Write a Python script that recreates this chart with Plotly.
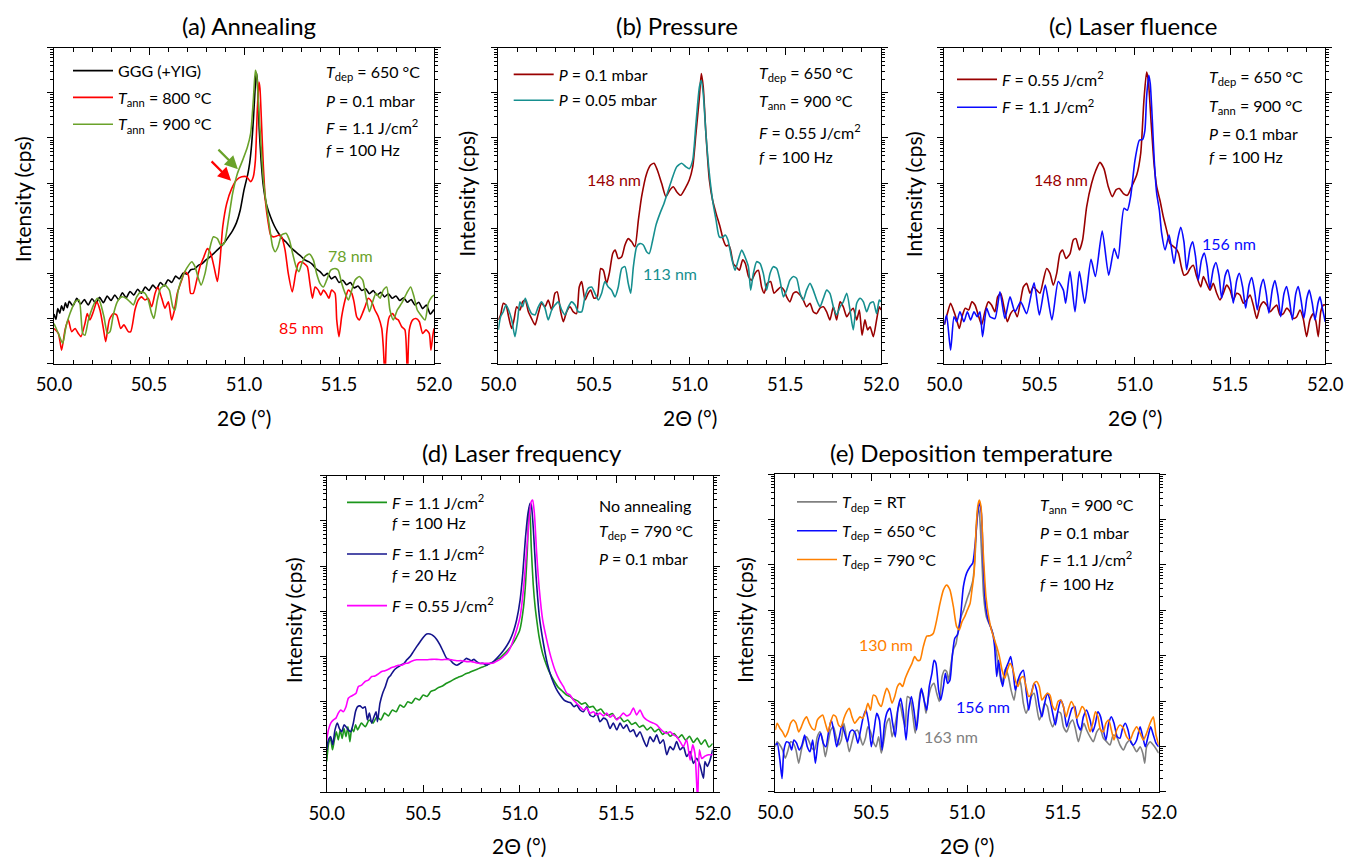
import numpy as np
import plotly.graph_objects as go

# ---------------- data: (2theta in deg, log10 of intensity in cps) ----------------
A_GGG = [(50.00,1.10),(50.01,0.98),(50.02,1.22),(50.03,1.12),(50.04,1.28),(50.05,1.18),(50.06,1.35),(50.07,1.24),(50.08,1.38),(50.10,1.28),(50.12,1.45),(50.14,1.32),(50.16,1.42),(50.18,1.30),(50.20,1.44),(50.22,1.34),(50.24,1.47),(50.26,1.35),(50.28,1.50),(50.30,1.40),(50.32,1.52),(50.34,1.42),(50.36,1.57),(50.38,1.46),(50.40,1.60),(50.42,1.52),(50.44,1.65),(50.46,1.56),(50.48,1.70),(50.50,1.62),(50.52,1.74),(50.54,1.66),(50.56,1.80),(50.58,1.72),(50.60,1.86),(50.62,1.80),(50.64,1.94),(50.66,1.88),(50.68,2.01),(50.70,1.98),(50.72,2.08),(50.74,2.10),(50.76,2.18),(50.78,2.22),(50.80,2.30),(50.82,2.36),(50.84,2.44),(50.86,2.52),(50.88,2.60),(50.90,2.70),(50.92,2.82),(50.94,2.95),(50.96,3.12),(50.98,3.40),(51.00,3.85),(51.02,4.20),(51.03,4.45),(51.04,4.85),(51.05,5.45),(51.06,6.20),(51.065,6.45),(51.07,6.30),(51.075,5.80),(51.08,5.20),(51.09,4.50),(51.10,4.00),(51.11,3.70),(51.12,3.50),(51.14,3.25),(51.16,3.05),(51.18,2.90),(51.20,2.78),(51.22,2.70),(51.24,2.60),(51.26,2.52),(51.28,2.45),(51.30,2.38),(51.32,2.30),(51.34,2.26),(51.36,2.20),(51.38,2.10),(51.40,2.04),(51.42,1.95),(51.44,2.00),(51.46,1.88),(51.48,1.93),(51.50,1.80),(51.52,1.85),(51.54,1.75),(51.56,1.80),(51.58,1.68),(51.60,1.72),(51.62,1.62),(51.64,1.66),(51.66,1.55),(51.68,1.62),(51.70,1.52),(51.72,1.58),(51.74,1.48),(51.76,1.55),(51.78,1.45),(51.80,1.50),(51.82,1.40),(51.84,1.46),(51.86,1.36),(51.88,1.42),(51.90,1.30),(51.92,1.36),(51.94,1.22),(51.96,1.30),(51.98,1.10),(52.00,1.20)]

A_T800 = [(50.000,0.78),(50.023,0.67),(50.040,0.30),(50.058,0.75),(50.075,0.97),(50.093,0.71),(50.111,0.78),(50.128,0.67),(50.142,0.60),(50.163,0.89),(50.175,1.11),(50.189,0.97),(50.207,1.15),(50.225,1.37),(50.242,1.19),(50.260,0.78),(50.272,0.49),(50.291,0.97),(50.312,1.11),(50.330,1.08),(50.351,0.78),(50.368,0.86),(50.391,0.71),(50.404,0.71),(50.426,1.19),(50.444,1.41),(50.461,1.48),(50.479,1.41),(50.496,1.45),(50.514,1.26),(50.532,1.56),(50.546,1.70),(50.567,1.45),(50.584,1.23),(50.602,1.37),(50.619,0.97),(50.632,1.15),(50.649,1.56),(50.672,1.85),(50.689,2.04),(50.707,1.96),(50.719,1.56),(50.733,1.56),(50.751,1.85),(50.768,2.15),(50.789,2.37),(50.807,2.55),(50.825,2.44),(50.842,2.15),(50.860,1.82),(50.874,2.30),(50.888,3.03),(50.909,3.55),(50.935,3.88),(50.961,4.07),(50.988,4.14),(51.014,4.14),(51.035,4.03),(51.049,4.14),(51.060,4.51),(51.070,5.62),(51.079,6.24),(51.084,6.10),(51.093,5.25),(51.102,4.36),(51.114,3.55),(51.128,3.11),(51.140,2.85),(51.154,2.81),(51.172,2.83),(51.186,2.85),(51.198,2.81),(51.216,2.52),(51.233,2.00),(51.254,1.59),(51.272,2.00),(51.286,2.22),(51.300,2.26),(51.316,2.22),(51.333,2.15),(51.347,1.78),(51.360,1.45),(51.374,1.70),(51.391,1.63),(51.404,1.52),(51.418,1.63),(51.432,1.56),(51.447,1.45),(51.461,1.63),(51.479,1.56),(51.488,0.97),(51.500,0.60),(51.514,1.04),(51.532,1.41),(51.549,1.63),(51.567,1.56),(51.579,1.37),(51.593,1.04),(51.607,0.97),(51.623,1.11),(51.637,1.26),(51.654,1.45),(51.672,1.37),(51.689,1.19),(51.707,1.04),(51.725,0.78),(51.733,0.38),(51.742,-0.30),(51.751,0.67),(51.765,1.04),(51.782,1.11),(51.800,1.00),(51.812,0.97),(51.830,0.82),(51.847,0.75),(51.860,-0.30),(51.870,0.75),(51.888,0.97),(51.905,1.00),(51.923,0.93),(51.940,0.67),(51.958,0.75),(51.975,0.67),(51.984,0.30),(51.993,0.60),(52.000,0.78)]

A_T900 = [(50.000,0.89),(50.023,0.67),(50.046,0.45),(50.063,0.82),(50.084,1.11),(50.111,1.37),(50.132,1.41),(50.151,0.67),(50.163,0.63),(50.181,0.97),(50.204,1.26),(50.228,1.45),(50.242,1.37),(50.263,1.04),(50.281,0.67),(50.295,0.71),(50.312,1.08),(50.333,1.37),(50.356,1.48),(50.379,1.45),(50.400,1.37),(50.418,1.30),(50.435,1.48),(50.456,1.59),(50.479,1.56),(50.496,1.41),(50.514,1.11),(50.526,1.00),(50.544,1.41),(50.561,1.67),(50.584,1.74),(50.607,1.63),(50.625,1.26),(50.637,1.19),(50.654,1.63),(50.677,1.93),(50.698,2.11),(50.725,2.26),(50.742,2.15),(50.760,1.89),(50.774,1.74),(50.795,2.00),(50.818,2.52),(50.839,2.81),(50.860,2.77),(50.877,2.63),(50.895,2.66),(50.918,3.18),(50.940,3.77),(50.965,4.21),(50.993,4.51),(51.018,4.80),(51.035,5.10),(51.049,5.84),(51.060,6.50),(51.067,6.39),(51.075,5.84),(51.088,4.95),(51.102,4.07),(51.119,3.48),(51.137,2.96),(51.151,2.59),(51.165,2.48),(51.179,2.59),(51.198,2.85),(51.221,2.89),(51.239,2.74),(51.256,2.44),(51.274,2.15),(51.289,2.04),(51.304,2.22),(51.321,2.37),(51.344,2.43),(51.365,2.30),(51.382,2.00),(51.400,1.78),(51.418,1.70),(51.435,1.85),(51.456,2.07),(51.479,2.11),(51.496,2.07),(51.514,1.78),(51.532,1.56),(51.549,1.41),(51.567,1.63),(51.584,1.85),(51.607,1.93),(51.625,1.85),(51.642,1.48),(51.660,1.15),(51.677,1.37),(51.695,1.56),(51.716,1.45),(51.733,1.63),(51.751,1.70),(51.768,1.19),(51.786,0.97),(51.807,1.19),(51.830,1.34),(51.856,1.56),(51.877,1.70),(51.895,1.48),(51.912,1.19),(51.930,1.08),(51.953,0.97),(51.970,1.34),(51.988,1.48),(52.000,1.52)]

B_P010 = [(50.000,0.97),(50.012,1.08),(50.026,1.34),(50.040,1.30),(50.054,1.04),(50.070,0.78),(50.082,0.97),(50.096,1.26),(50.113,1.19),(50.127,1.37),(50.141,1.41),(50.157,1.15),(50.174,1.00),(50.192,0.86),(50.209,1.11),(50.226,1.34),(50.244,1.26),(50.261,1.41),(50.279,1.19),(50.296,1.56),(50.308,1.59),(50.326,1.15),(50.340,0.93),(50.357,1.15),(50.375,1.26),(50.392,1.15),(50.409,1.11),(50.423,1.70),(50.436,1.82),(50.453,1.41),(50.470,1.56),(50.483,1.63),(50.500,1.45),(50.517,1.48),(50.535,2.11),(50.549,2.07),(50.566,1.78),(50.580,2.00),(50.598,2.44),(50.611,2.52),(50.627,2.33),(50.645,2.37),(50.662,2.63),(50.679,2.77),(50.697,2.70),(50.714,2.59),(50.732,3.18),(50.749,3.70),(50.775,4.21),(50.796,4.40),(50.814,4.44),(50.831,4.29),(50.854,3.99),(50.876,3.70),(50.897,3.85),(50.915,3.92),(50.932,3.81),(50.953,3.73),(50.976,3.88),(50.998,4.07),(51.016,4.36),(51.033,5.10),(51.051,5.91),(51.061,6.43),(51.071,6.13),(51.085,5.10),(51.103,4.07),(51.120,3.62),(51.138,3.33),(51.159,3.03),(51.176,2.74),(51.190,2.61),(51.204,2.63),(51.214,2.52),(51.228,2.22),(51.242,2.15),(51.260,2.07),(51.277,2.30),(51.291,2.22),(51.308,1.93),(51.324,1.85),(51.341,2.00),(51.359,2.07),(51.376,1.70),(51.389,1.56),(51.406,1.78),(51.423,1.82),(51.441,1.56),(51.458,1.63),(51.476,1.70),(51.493,1.63),(51.507,1.48),(51.524,1.37),(51.542,1.56),(51.559,1.59),(51.577,1.52),(51.594,1.41),(51.611,1.26),(51.629,1.34),(51.646,1.15),(51.664,1.11),(51.681,1.23),(51.699,1.26),(51.716,1.15),(51.733,0.97),(51.751,1.26),(51.768,0.97),(51.786,1.37),(51.803,1.26),(51.821,1.04),(51.838,1.15),(51.855,1.23),(51.873,0.97),(51.887,1.19),(51.901,0.63),(51.916,0.97),(51.930,0.75),(51.943,0.82),(51.960,0.60),(51.977,0.97),(51.991,1.26),(52.000,1.19)]

B_P005 = [(50.000,0.75),(50.012,1.04),(50.026,1.15),(50.040,1.30),(50.054,1.19),(50.070,0.97),(50.087,0.60),(50.101,0.97),(50.113,1.37),(50.127,1.26),(50.141,1.45),(50.157,1.26),(50.174,1.11),(50.192,1.08),(50.209,1.26),(50.226,1.37),(50.244,1.23),(50.261,0.97),(50.279,1.19),(50.296,1.30),(50.314,1.37),(50.331,1.19),(50.348,1.08),(50.366,1.26),(50.383,1.37),(50.401,1.30),(50.418,1.15),(50.436,1.15),(50.453,1.48),(50.470,1.67),(50.488,1.70),(50.505,1.56),(50.523,1.41),(50.540,1.56),(50.557,1.82),(50.575,1.70),(50.592,1.63),(50.610,1.48),(50.627,1.70),(50.645,2.11),(50.662,2.15),(50.679,1.78),(50.692,1.56),(50.706,2.15),(50.723,2.59),(50.740,2.66),(50.758,2.63),(50.775,2.48),(50.789,2.44),(50.807,2.74),(50.824,3.07),(50.845,3.33),(50.866,3.55),(50.883,3.77),(50.906,4.07),(50.932,4.36),(50.958,4.44),(50.981,4.36),(50.998,4.32),(51.016,4.51),(51.033,5.32),(51.051,6.13),(51.061,6.28),(51.071,5.99),(51.085,5.10),(51.103,4.21),(51.120,3.62),(51.138,3.18),(51.155,2.81),(51.172,2.80),(51.186,2.85),(51.200,2.74),(51.218,2.37),(51.237,2.07),(51.254,2.30),(51.272,2.52),(51.289,2.37),(51.307,2.15),(51.319,1.63),(51.333,2.00),(51.350,2.26),(51.368,2.22),(51.385,2.00),(51.402,1.63),(51.420,2.00),(51.437,2.15),(51.455,2.11),(51.472,1.85),(51.490,1.48),(51.507,1.63),(51.524,1.85),(51.542,1.93),(51.559,1.89),(51.577,1.56),(51.594,1.41),(51.611,1.63),(51.629,1.78),(51.646,1.63),(51.664,1.41),(51.681,1.26),(51.699,1.45),(51.716,1.63),(51.733,1.56),(51.751,1.26),(51.768,1.08),(51.786,1.26),(51.803,1.37),(51.821,1.56),(51.838,1.19),(51.855,0.75),(51.873,1.34),(51.890,1.45),(51.908,1.37),(51.925,1.15),(51.943,1.34),(51.960,1.37),(51.977,1.11),(51.991,1.41),(52.000,1.37)]

C_F055 = [(50.000,0.86),(50.016,1.11),(50.033,1.34),(50.051,1.15),(50.065,0.97),(50.079,0.78),(50.093,1.04),(50.110,1.23),(50.128,1.19),(50.145,1.37),(50.161,1.30),(50.178,1.08),(50.196,0.86),(50.213,1.15),(50.231,1.37),(50.248,1.30),(50.266,1.15),(50.280,1.48),(50.296,1.56),(50.313,1.26),(50.331,0.93),(50.348,1.11),(50.366,1.19),(50.383,1.04),(50.401,1.41),(50.415,1.70),(50.432,1.78),(50.450,1.56),(50.467,1.70),(50.485,1.63),(50.502,1.56),(50.520,1.85),(50.537,2.11),(50.555,2.00),(50.572,1.74),(50.590,2.00),(50.607,2.44),(50.621,2.52),(50.639,2.33),(50.660,2.44),(50.677,2.74),(50.691,2.77),(50.709,2.52),(50.726,2.74),(50.747,3.47),(50.773,3.99),(50.796,4.29),(50.817,4.46),(50.838,4.32),(50.861,3.92),(50.882,3.70),(50.901,3.85),(50.919,3.88),(50.940,3.77),(50.961,3.73),(50.983,3.92),(51.010,4.18),(51.031,4.66),(51.048,5.84),(51.062,6.46),(51.071,6.27),(51.085,5.39),(51.101,4.43),(51.115,3.92),(51.132,3.62),(51.150,3.25),(51.167,2.96),(51.185,2.66),(51.199,2.61),(51.216,2.55),(51.230,2.44),(51.244,2.15),(51.258,1.96),(51.276,2.00),(51.290,2.11),(51.307,2.18),(51.325,1.93),(51.346,1.70),(51.360,1.93),(51.377,1.78),(51.395,1.63),(51.412,1.78),(51.430,1.56),(51.447,1.41),(51.465,1.56),(51.482,1.74),(51.500,1.63),(51.517,1.41),(51.535,1.56),(51.552,1.52),(51.570,1.34),(51.587,1.41),(51.605,1.52),(51.622,1.30),(51.640,1.00),(51.657,1.26),(51.675,1.37),(51.692,1.30),(51.710,1.15),(51.727,1.23),(51.745,1.30),(51.762,1.08),(51.780,1.11),(51.797,1.23),(51.815,1.15),(51.832,1.00),(51.850,1.04),(51.867,1.19),(51.884,1.00),(51.902,0.60),(51.919,0.97),(51.937,1.11),(51.951,0.93),(51.963,0.60),(51.976,1.15),(51.990,1.30),(52.000,1.30)]

C_F110 = [(50.000,0.86),(50.012,1.08),(50.033,0.30),(50.051,1.04),(50.065,0.93),(50.082,1.15),(50.103,0.93),(50.121,1.15),(50.138,0.97),(50.156,1.15),(50.173,1.04),(50.187,1.15),(50.201,0.60),(50.222,1.23),(50.240,1.04),(50.266,1.00),(50.292,1.59),(50.318,1.00),(50.345,1.48),(50.371,1.15),(50.401,1.37),(50.432,1.11),(50.471,1.79),(50.499,1.08),(50.530,1.74),(50.565,0.97),(50.598,1.82),(50.625,1.63),(50.637,1.34),(50.660,2.04),(50.686,1.15),(50.709,2.04),(50.737,1.34),(50.770,2.31),(50.793,1.93),(50.829,2.94),(50.863,1.96),(50.892,2.55),(50.912,2.33),(50.943,3.44),(50.961,3.40),(50.978,3.70),(51.001,4.51),(51.024,4.95),(51.041,4.97),(51.053,5.17),(51.062,5.91),(51.073,6.39),(51.081,6.21),(51.092,5.39),(51.102,4.51),(51.115,3.77),(51.129,3.40),(51.141,2.89),(51.159,2.52),(51.180,2.85),(51.206,2.22),(51.225,2.75),(51.241,3.02),(51.258,2.70),(51.272,2.08),(51.290,2.55),(51.304,2.70),(51.318,2.40),(51.333,1.85),(51.350,2.30),(51.365,2.45),(51.380,2.15),(51.394,1.67),(51.412,2.10),(51.426,2.24),(51.442,1.95),(51.456,1.45),(51.474,1.95),(51.488,2.08),(51.503,1.80),(51.517,1.34),(51.535,1.85),(51.549,2.00),(51.566,1.70),(51.582,1.23),(51.600,1.75),(51.614,1.91),(51.629,1.60),(51.643,1.19),(51.661,1.70),(51.675,1.87),(51.690,1.55),(51.704,1.12),(51.722,1.65),(51.736,1.84),(51.752,1.50),(51.766,1.04),(51.783,1.55),(51.797,1.71),(51.812,1.40),(51.827,0.97),(51.845,1.55),(51.858,1.71),(51.873,1.40),(51.888,1.01),(51.903,1.45),(51.916,1.63),(51.931,1.35),(51.946,0.97),(51.962,1.35),(51.972,1.48),(51.986,1.20),(52.000,0.93)]

D_F110_100 = [(50.00,0.68),(50.01,1.08),(50.02,1.19),(50.03,0.94),(50.04,1.16),(50.05,1.34),(50.06,1.16),(50.07,1.38),(50.08,1.19),(50.09,1.41),(50.10,1.23),(50.11,1.45),(50.12,1.12),(50.13,1.41),(50.14,1.34),(50.15,1.49),(50.16,1.38),(50.18,1.53),(50.20,1.45),(50.22,1.60),(50.24,1.53),(50.26,1.67),(50.28,1.60),(50.30,1.75),(50.32,1.69),(50.34,1.82),(50.36,1.78),(50.38,1.93),(50.40,1.88),(50.42,2.00),(50.44,1.97),(50.46,2.08),(50.48,2.04),(50.50,2.15),(50.52,2.12),(50.54,2.23),(50.56,2.26),(50.58,2.32),(50.60,2.35),(50.62,2.41),(50.64,2.45),(50.66,2.50),(50.68,2.54),(50.70,2.57),(50.72,2.62),(50.74,2.65),(50.76,2.69),(50.78,2.72),(50.80,2.76),(50.82,2.79),(50.84,2.84),(50.86,2.87),(50.88,2.93),(50.90,2.98),(50.92,3.06),(50.94,3.15),(50.96,3.26),(50.98,3.40),(51.00,3.58),(51.02,4.10),(51.03,4.60),(51.04,5.40),(51.045,6.00),(51.05,6.30),(51.055,6.05),(51.06,5.40),(51.07,4.60),(51.08,4.10),(51.09,3.75),(51.10,3.45),(51.12,3.05),(51.14,2.80),(51.16,2.60),(51.18,2.45),(51.20,2.32),(51.22,2.24),(51.24,2.16),(51.26,2.12),(51.28,2.06),(51.30,2.02),(51.32,1.95),(51.34,1.98),(51.36,1.88),(51.38,1.90),(51.40,1.80),(51.42,1.84),(51.44,1.74),(51.46,1.70),(51.48,1.74),(51.50,1.62),(51.52,1.66),(51.54,1.56),(51.56,1.60),(51.58,1.50),(51.60,1.54),(51.62,1.44),(51.64,1.48),(51.66,1.38),(51.68,1.44),(51.70,1.34),(51.72,1.40),(51.74,1.28),(51.76,1.34),(51.78,1.24),(51.80,1.30),(51.82,1.20),(51.84,1.27),(51.86,1.15),(51.88,1.24),(51.90,1.10),(51.92,1.20),(51.94,1.06),(51.96,1.16),(51.98,1.00),(52.00,1.08)]

D_F110_20 = [(50.000,0.94),(50.009,1.16),(50.021,1.23),(50.031,1.05),(50.043,1.38),(50.055,1.53),(50.066,1.41),(50.078,1.34),(50.090,1.49),(50.100,1.45),(50.112,1.38),(50.124,1.34),(50.138,1.53),(50.149,1.78),(50.159,1.89),(50.173,1.91),(50.187,1.86),(50.199,1.89),(50.211,1.60),(50.221,1.75),(50.233,1.53),(50.245,1.67),(50.256,1.78),(50.263,1.56),(50.276,1.97),(50.290,2.19),(50.304,2.34),(50.318,2.52),(50.332,2.59),(50.349,2.70),(50.366,2.76),(50.383,2.81),(50.401,2.85),(50.415,2.93),(50.432,3.00),(50.449,3.11),(50.466,3.22),(50.484,3.33),(50.501,3.43),(50.518,3.50),(50.535,3.50),(50.553,3.46),(50.570,3.38),(50.587,3.26),(50.604,3.11),(50.622,2.96),(50.639,2.93),(50.656,2.85),(50.674,2.81),(50.691,2.85),(50.705,2.89),(50.722,2.96),(50.736,2.94),(50.750,2.91),(50.763,2.94),(50.777,2.89),(50.794,2.85),(50.812,2.85),(50.829,2.81),(50.846,2.85),(50.864,2.89),(50.881,2.96),(50.898,3.04),(50.915,3.13),(50.933,3.24),(50.950,3.37),(50.967,3.55),(50.984,3.81),(51.002,4.25),(51.016,4.84),(51.029,5.58),(51.043,6.17),(51.054,6.39),(51.060,6.35),(51.071,5.80),(51.085,4.77),(51.102,3.88),(51.123,3.29),(51.143,2.85),(51.166,2.52),(51.188,2.30),(51.209,2.15),(51.230,2.04),(51.247,2.00),(51.264,1.98),(51.282,1.89),(51.295,1.93),(51.313,1.82),(51.330,1.78),(51.347,1.89),(51.364,1.71),(51.382,1.67),(51.399,1.75),(51.416,1.56),(51.434,1.64),(51.451,1.60),(51.468,1.41),(51.485,1.53),(51.503,1.38),(51.520,1.53),(51.537,1.41),(51.554,1.49),(51.572,1.34),(51.589,1.38),(51.606,1.23),(51.623,1.34),(51.641,1.16),(51.658,1.01),(51.675,1.23),(51.693,1.12),(51.710,1.27),(51.727,1.08),(51.744,1.16),(51.762,0.83),(51.779,1.01),(51.796,0.94),(51.813,1.12),(51.831,0.94),(51.848,1.01),(51.865,0.79),(51.883,0.90),(51.900,0.64),(51.917,0.75),(51.934,0.60),(51.952,0.31),(51.960,0.68),(51.972,0.57),(51.986,0.71),(52.000,0.94)]

D_F055 = [(50.000,1.16),(50.009,1.38),(50.021,1.53),(50.035,1.60),(50.048,1.64),(50.060,1.75),(50.073,1.82),(50.086,1.78),(50.100,1.89),(50.112,2.08),(50.124,2.12),(50.138,2.15),(50.152,2.19),(50.164,2.34),(50.181,2.37),(50.199,2.45),(50.216,2.48),(50.233,2.56),(50.250,2.57),(50.268,2.62),(50.285,2.67),(50.302,2.69),(50.320,2.72),(50.337,2.76),(50.354,2.78),(50.371,2.81),(50.389,2.81),(50.406,2.85),(50.423,2.86),(50.440,2.90),(50.466,2.93),(50.492,2.93),(50.518,2.93),(50.544,2.94),(50.570,2.94),(50.596,2.93),(50.622,2.94),(50.648,2.93),(50.674,2.91),(50.699,2.91),(50.725,2.89),(50.751,2.89),(50.777,2.86),(50.803,2.85),(50.829,2.85),(50.846,2.85),(50.864,2.86),(50.881,2.90),(50.898,2.94),(50.915,3.00),(50.933,3.07),(50.950,3.18),(50.967,3.37),(50.984,3.59),(51.002,3.88),(51.019,4.47),(51.036,5.36),(51.050,6.09),(51.060,6.43),(51.067,6.46),(51.076,6.17),(51.088,5.28),(51.102,4.47),(51.119,3.81),(51.140,3.37),(51.161,3.00),(51.183,2.70),(51.206,2.48),(51.226,2.34),(51.244,2.19),(51.261,2.15),(51.278,2.04),(51.295,1.97),(51.313,1.89),(51.330,1.82),(51.347,1.86),(51.364,1.75),(51.382,1.78),(51.399,1.71),(51.416,1.75),(51.434,1.69),(51.451,1.75),(51.468,1.66),(51.485,1.71),(51.503,1.60),(51.520,1.67),(51.537,1.75),(51.554,1.69),(51.572,1.73),(51.589,1.86),(51.606,1.71),(51.623,1.82),(51.641,1.67),(51.658,1.60),(51.675,1.56),(51.693,1.53),(51.710,1.49),(51.727,1.41),(51.744,1.34),(51.762,1.30),(51.779,1.34),(51.796,1.27),(51.813,1.23),(51.831,1.12),(51.848,1.01),(51.865,1.16),(51.883,0.71),(51.896,1.05),(51.908,0.86),(51.922,-0.20),(51.931,0.94),(51.943,0.75),(51.960,0.80),(51.978,0.83),(52.000,0.83)]

E_RT = [(50.000,0.99),(50.010,1.10),(50.024,1.03),(50.038,0.92),(50.052,0.74),(50.064,0.88),(50.080,1.10),(50.094,1.07),(50.108,0.92),(50.122,0.63),(50.136,0.92),(50.150,1.14),(50.163,1.21),(50.177,1.10),(50.191,0.96),(50.205,0.92),(50.219,1.21),(50.233,1.32),(50.247,1.14),(50.261,0.77),(50.275,1.07),(50.289,1.36),(50.303,1.43),(50.317,1.21),(50.330,1.03),(50.344,1.14),(50.358,1.51),(50.372,1.18),(50.386,0.88),(50.400,1.10),(50.414,1.32),(50.428,1.36),(50.442,1.21),(50.456,1.03),(50.470,1.18),(50.483,1.43),(50.497,1.32),(50.511,1.10),(50.525,0.99),(50.539,1.21),(50.553,0.85),(50.567,1.14),(50.581,1.51),(50.595,1.62),(50.609,1.21),(50.623,1.43),(50.637,1.76),(50.650,1.95),(50.664,1.65),(50.678,1.43),(50.689,2.10),(50.703,2.06),(50.717,1.69),(50.730,1.29),(50.744,1.73),(50.758,2.24),(50.772,2.13),(50.786,1.73),(50.800,2.10),(50.814,2.32),(50.828,2.39),(50.842,2.17),(50.856,1.99),(50.870,2.54),(50.883,2.68),(50.894,2.65),(50.904,2.46),(50.917,2.83),(50.929,3.13),(50.943,3.27),(50.957,3.64),(50.969,3.86),(50.983,4.01),(50.999,4.23),(51.017,4.45),(51.031,4.67),(51.042,5.18),(51.052,6.07),(51.059,6.29),(51.066,6.07),(51.077,5.18),(51.087,4.30),(51.101,3.86),(51.115,3.71),(51.129,3.57),(51.143,3.35),(51.157,2.98),(51.170,2.61),(51.181,2.39),(51.191,2.54),(51.202,2.72),(51.216,2.54),(51.230,2.24),(51.245,2.02),(51.256,2.28),(51.270,2.50),(51.280,2.39),(51.294,1.95),(51.308,1.73),(51.322,1.88),(51.336,2.10),(51.350,2.17),(51.363,1.88),(51.377,1.58),(51.391,1.73),(51.405,1.95),(51.419,1.88),(51.433,1.58),(51.447,1.43),(51.461,1.58),(51.475,1.76),(51.489,1.73),(51.503,1.43),(51.520,1.32),(51.537,1.51),(51.551,1.58),(51.565,1.40),(51.581,1.10),(51.595,1.32),(51.610,1.51),(51.624,1.36),(51.642,1.21),(51.659,1.10),(51.677,1.32),(51.694,1.40),(51.711,1.18),(51.729,1.10),(51.746,1.03),(51.763,1.25),(51.781,1.21),(51.798,1.03),(51.816,0.92),(51.833,1.07),(51.850,1.14),(51.868,1.00),(51.885,0.88),(51.903,0.99),(51.917,0.85),(51.927,0.63),(51.937,0.99),(51.955,1.10),(51.972,1.03),(51.990,0.92),(52.000,0.85)]

E_650 = [(50.000,1.03),(50.010,1.07),(50.024,0.70),(50.035,0.29),(50.045,0.92),(50.059,1.10),(50.073,1.07),(50.085,0.92),(50.097,1.14),(50.111,1.07),(50.125,0.92),(50.139,1.03),(50.153,1.25),(50.167,0.99),(50.181,0.88),(50.195,1.14),(50.209,0.63),(50.223,1.10),(50.237,1.29),(50.250,1.07),(50.264,0.99),(50.278,1.32),(50.292,1.58),(50.306,1.32),(50.320,0.99),(50.334,1.21),(50.348,1.47),(50.362,1.29),(50.376,1.10),(50.390,1.32),(50.403,1.36),(50.417,1.29),(50.431,1.07),(50.445,1.36),(50.459,1.65),(50.473,1.80),(50.487,1.51),(50.501,0.99),(50.515,1.36),(50.529,1.73),(50.543,1.58),(50.557,0.92),(50.570,1.51),(50.584,1.76),(50.598,1.84),(50.612,1.51),(50.626,1.21),(50.640,1.84),(50.654,2.06),(50.668,1.73),(50.682,1.14),(50.696,1.80),(50.710,2.10),(50.723,1.80),(50.737,1.36),(50.751,1.95),(50.762,2.28),(50.776,2.02),(50.790,1.80),(50.803,2.32),(50.817,2.61),(50.828,2.90),(50.838,2.83),(50.852,2.24),(50.863,2.02),(50.877,2.32),(50.887,2.61),(50.899,2.39),(50.911,2.46),(50.923,2.98),(50.936,3.38),(50.950,3.46),(50.963,3.71),(50.981,4.52),(50.998,4.82),(51.016,4.96),(51.030,5.04),(51.043,5.48),(51.054,6.07),(51.064,6.40),(51.075,6.14),(51.085,5.04),(51.096,4.15),(51.110,3.79),(51.123,3.64),(51.134,3.49),(51.144,3.20),(51.155,2.54),(51.165,2.90),(51.176,2.54),(51.186,2.32),(51.200,2.68),(51.214,2.83),(51.228,2.98),(51.242,2.61),(51.252,2.24),(51.266,2.46),(51.280,2.61),(51.294,2.68),(51.308,2.24),(51.322,1.80),(51.336,2.17),(51.350,2.39),(51.363,2.24),(51.377,1.88),(51.391,1.65),(51.405,1.95),(51.419,2.17),(51.433,2.02),(51.447,1.73),(51.461,1.47),(51.475,1.80),(51.489,2.02),(51.503,1.88),(51.520,1.43),(51.534,1.65),(51.548,1.84),(51.562,1.88),(51.576,1.51),(51.593,1.36),(51.607,1.65),(51.624,1.80),(51.642,1.58),(51.656,1.32),(51.670,1.51),(51.683,1.76),(51.697,1.65),(51.711,1.36),(51.725,1.14),(51.739,1.51),(51.753,1.65),(51.767,1.51),(51.784,1.21),(51.798,1.18),(51.812,1.40),(51.826,1.51),(51.840,1.36),(51.854,1.10),(51.868,1.03),(51.885,1.14),(51.903,1.43),(51.917,1.21),(51.930,0.99),(51.944,1.21),(51.958,1.43),(51.972,1.25),(51.986,1.07),(52.000,0.99)]

E_790 = [(50.000,1.36),(50.010,1.51),(50.024,1.40),(50.038,1.32),(50.052,1.21),(50.066,1.32),(50.080,1.51),(50.094,1.58),(50.108,1.51),(50.122,1.32),(50.136,1.43),(50.150,1.58),(50.163,1.65),(50.177,1.51),(50.191,1.40),(50.205,1.36),(50.219,1.58),(50.233,1.65),(50.247,1.69),(50.261,1.51),(50.275,1.32),(50.289,1.54),(50.303,1.69),(50.317,1.65),(50.330,1.47),(50.344,1.43),(50.358,1.62),(50.372,1.76),(50.386,1.84),(50.400,1.65),(50.414,1.51),(50.428,1.58),(50.442,1.65),(50.456,1.62),(50.470,1.76),(50.483,1.95),(50.497,1.80),(50.511,2.13),(50.525,2.10),(50.539,1.95),(50.553,1.88),(50.567,2.10),(50.581,2.28),(50.595,2.17),(50.609,1.95),(50.623,2.10),(50.637,2.32),(50.650,2.39),(50.664,2.32),(50.678,2.50),(50.696,2.68),(50.713,2.83),(50.727,2.98),(50.741,2.90),(50.755,2.90),(50.772,3.20),(50.790,3.43),(50.807,3.44),(50.824,3.49),(50.842,3.79),(50.859,4.15),(50.877,4.45),(50.894,4.56),(50.911,4.45),(50.929,4.08),(50.946,3.64),(50.960,3.57),(50.974,3.75),(50.988,3.86),(51.002,4.01),(51.016,4.15),(51.026,4.45),(51.037,4.82),(51.047,5.77),(51.056,6.29),(51.064,6.43),(51.073,6.29),(51.085,5.26),(51.099,4.30),(51.113,3.86),(51.127,3.57),(51.141,3.38),(51.155,3.20),(51.169,2.98),(51.183,2.68),(51.197,2.50),(51.210,2.68),(51.224,2.83),(51.238,2.72),(51.252,2.46),(51.266,2.32),(51.280,2.50),(51.294,2.54),(51.308,2.32),(51.322,2.10),(51.336,2.17),(51.350,2.39),(51.363,2.43),(51.377,2.32),(51.391,2.02),(51.405,2.10),(51.419,2.17),(51.433,2.13),(51.447,1.88),(51.461,1.80),(51.475,1.99),(51.489,2.02),(51.503,1.88),(51.517,1.65),(51.530,1.84),(51.544,1.99),(51.558,1.88),(51.572,1.62),(51.586,1.73),(51.600,1.88),(51.614,1.80),(51.628,1.54),(51.642,1.32),(51.656,1.51),(51.670,1.76),(51.683,1.65),(51.697,1.36),(51.711,1.32),(51.725,1.51),(51.739,1.58),(51.753,1.36),(51.767,1.14),(51.781,1.36),(51.798,1.47),(51.816,1.40),(51.833,1.21),(51.850,1.14),(51.868,1.32),(51.885,1.43),(51.903,1.29),(51.920,1.14),(51.937,1.29),(51.955,1.51),(51.972,1.65),(51.986,1.25),(52.000,1.03)]

X_RANGE = [50.0, 52.0]
LOG_RANGE = [0, 7]          # decades shown on the (label-less) intensity axis

FONT = "Lato"
W, H = 1346, 858

def px(x):
    return x / W

def py(y):
    return 1 - y / H

# panel geometry (pixels): axis suffix, left, right, top, bottom
PANELS = [("", 54, 434, 47.7, 363.7),
          ("2", 498.3, 881, 47.7, 363.7),
          ("3", 944.3, 1325.3, 47.7, 363.7),
          ("4", 326.7, 712.7, 475.7, 792.3),
          ("5", 775.3, 1158.7, 474.3, 791.7)]

SERIES = [
    # panel, data, legend label, colour
    ("", A_GGG, "GGG (+YIG)", "#000000"),
    ("", A_T800, "<i>T</i><sub>ann</sub> = 800 °C", "#ff0000"),
    ("", A_T900, "<i>T</i><sub>ann</sub> = 900 °C", "#6aa22a"),
    ("2", B_P010, "<i>P</i> = 0.1 mbar", "#990000"),
    ("2", B_P005, "<i>P</i> = 0.05 mbar", "#168f8f"),
    ("3", C_F055, "<i>F</i> = 0.55 J/cm<sup>2</sup>", "#990000"),
    ("3", C_F110, "<i>F</i> = 1.1 J/cm<sup>2</sup>", "#0a0aff"),
    ("4", D_F110_100, "<i>F</i> = 1.1 J/cm<sup>2</sup><br><i>f</i> = 100 Hz", "#1c961c"),
    ("4", D_F110_20, "<i>F</i> = 1.1 J/cm<sup>2</sup><br><i>f</i> = 20 Hz", "#14148c"),
    ("4", D_F055, "<i>F</i> = 0.55 J/cm<sup>2</sup>", "#ff00ff"),
    ("5", E_RT, "<i>T</i><sub>dep</sub> = RT", "#808080"),
    ("5", E_650, "<i>T</i><sub>dep</sub> = 650 °C", "#0a0aff"),
    ("5", E_790, "<i>T</i><sub>dep</sub> = 790 °C", "#ff8000"),
]

LEGEND_OF = {"": "legend", "2": "legend2", "3": "legend3", "4": "legend4", "5": "legend5"}

fig = go.Figure()
for i, (panel, data, label, color) in enumerate(SERIES):
    arr = np.array(data, dtype=float)
    fig.add_trace(go.Scatter(
        x=arr[:, 0], y=10 ** arr[:, 1], mode="lines", name=label,
        line=dict(color=color, width=1.6, shape="spline", smoothing=0.6),
        xaxis="x" + panel, yaxis="y" + panel, legend=LEGEND_OF[panel],
        legendgroup="g%d" % i, showlegend=True))

layout = dict(template="none", width=W, height=H,
              margin=dict(l=0, r=0, t=0, b=0, pad=0, autoexpand=False),
              paper_bgcolor="white", plot_bgcolor="white",
              font=dict(family=FONT, color="black"))

for k, l, r, t, b in PANELS:
    layout["xaxis" + k] = dict(
        domain=[px(l), px(r)], anchor="y" + k, range=X_RANGE,
        tick0=50, dtick=0.5, tickformat=".1f",
        ticks="inside", ticklen=7, tickwidth=1.2, tickcolor="black",
        minor=dict(dtick=0.1, tick0=50, ticks="inside", ticklen=4, tickwidth=1, tickcolor="black"),
        showline=True, linecolor="black", linewidth=1.3, mirror="ticks",
        showgrid=False, zeroline=False, automargin=False,
        tickfont=dict(family=FONT, size=18.5, color="black"), ticklabelstandoff=4)
    layout["yaxis" + k] = dict(
        domain=[py(b), py(t)], anchor="x" + k, type="log", range=LOG_RANGE,
        dtick=1, ticks="outside", ticklen=6, tickwidth=1.2, tickcolor="black",
        minor=dict(dtick="D1", ticks="outside", ticklen=3, tickwidth=1, tickcolor="black"),
        showticklabels=False, showline=True, linecolor="black", linewidth=1.3,
        mirror="ticks", showgrid=False, zeroline=False, automargin=False)

LEG_FONT = dict(family=FONT, size=16, color="black")
def legend_at(x, y, gap, **kw):
    d = dict(x=px(x), y=py(y), xanchor="left", yanchor="top", bgcolor="rgba(0,0,0,0)",
             borderwidth=0, font=LEG_FONT, tracegroupgap=gap, itemwidth=40)
    d.update(kw)
    return d

layout["legend"] = legend_at(68, 53.7, 3)
layout["legend2"] = legend_at(508.7, 57.5, 2)
layout["legend3"] = legend_at(952, 62.5, 4)
layout["legend4"] = legend_at(342, 485.5, 7, valign="top")
layout["legend5"] = legend_at(792, 485, 5)

ann = []
def text(x, y, s, size=16, color="black", xanchor="left", angle=0):
    ann.append(dict(x=px(x), y=py(y), xref="paper", yref="paper", text=s, showarrow=False,
                    xanchor=xanchor, yanchor="middle", textangle=angle,
                    font=dict(family=FONT, size=size, color=color)))

# titles
for cx, cy, s in [(249, 26, "(a) Annealing"), (677, 26, "(b) Pressure"), (1133, 26, "(c) Laser fluence"),
                  (521.7, 452, "(d) Laser frequency"), (971.7, 452, "(e) Deposition temperature")]:
    text(cx, cy, s, size=24, xanchor="center")

# axis titles
for cx, cy in [(244, 417), (690, 417), (1135, 417), (519, 845), (966.7, 845)]:
    text(cx, cy, "2Θ (°)", size=21, xanchor="center")
for cx, cy in [(23.3, 199), (465.8, 194), (913.3, 194), (293.3, 620), (744, 620)]:
    text(cx, cy, "Intensity (cps)", size=21, xanchor="center", angle=-90)

TDEP = "<i>T</i><sub>dep</sub>"
TANN = "<i>T</i><sub>ann</sub>"
params = [
    (324, [(72, TDEP + " = 650 °C"), (100, "<i>P</i> = 0.1 mbar"), (126, "<i>F</i> = 1.1 J/cm<sup>2</sup>"), (150, "<i>f</i> = 100 Hz")]),
    (757.3, [(74, TDEP + " = 650 °C"), (102, TANN + " = 900 °C"), (131, "<i>F</i> = 0.55 J/cm<sup>2</sup>"), (156, "<i>f</i> = 100 Hz")]),
    (1207.3, [(77, TDEP + " = 650 °C"), (106, TANN + " = 900 °C"), (133, "<i>P</i> = 0.1 mbar"), (157, "<i>f</i> = 100 Hz")]),
    (596.7, [(505, "No annealing"), (531, TDEP + " = 790 °C"), (558, "<i>P</i> = 0.1 mbar")]),
    (1038.3, [(505, TANN + " = 900 °C"), (532, "<i>P</i> = 0.1 mbar"), (558, "<i>F</i> = 1.1 J/cm<sup>2</sup>"), (583, "<i>f</i> = 100 Hz")]),
]
for x0, lines in params:
    for yy, s in lines:
        text(x0, yy, s)

# thickness labels
for cx, cy, s, c in [(350, 255, "78 nm", "#6aa22a"), (301.7, 328, "85 nm", "#ff0000"),
                     (613.5, 179, "148 nm", "#990000"), (669.5, 274, "113 nm", "#168f8f"),
                     (1061, 179, "148 nm", "#990000"), (1229, 243, "156 nm", "#0a0aff"),
                     (885.8, 644, "130 nm", "#ff8000"), (983.3, 706, "156 nm", "#0a0aff"),
                     (951, 736, "163 nm", "#808080")]:
    text(cx, cy, s, color=c, xanchor="center")

# arrows in panel (a)
for x_tip, lg_tip, c in [(50.932, 4.05, "#ff0000"), (50.968, 4.31, "#6aa22a")]:
    ann.append(dict(x=x_tip, y=lg_tip, xref="x", yref="y", text="", showarrow=True,
                    ax=-21, ay=-21, arrowhead=2, arrowsize=1.2, arrowwidth=2.2, arrowcolor=c))

layout["annotations"] = ann
fig.update_layout(**layout)

# the figure fills the whole window: drop the default page margin / scrollbars
fig.write_html("out.html",
               config={"displayModeBar": False},
               post_script="document.body.style.margin='0';document.body.style.overflow='hidden';")
